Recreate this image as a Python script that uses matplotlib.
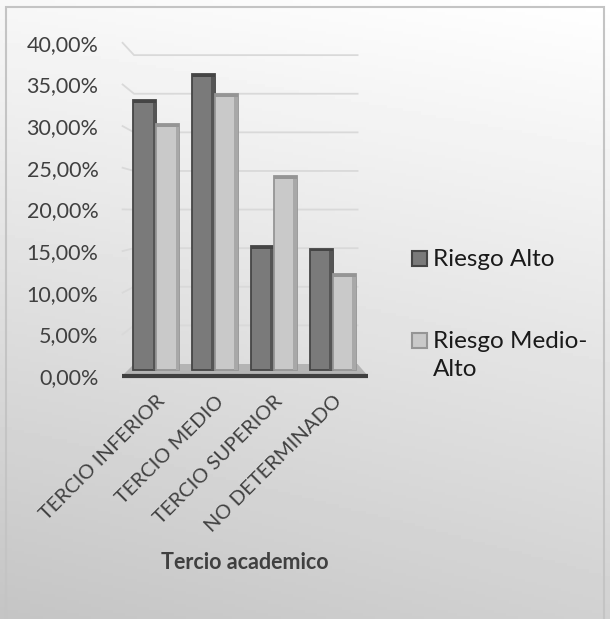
import numpy as np
import matplotlib
matplotlib.use("Agg")
import matplotlib.pyplot as plt
from matplotlib.patches import Rectangle, Polygon

plt.rcParams['font.family'] = ['Lato', 'DejaVu Sans']

# data (percent)
categories = ["TERCIO INFERIOR", "TERCIO MEDIO", "TERCIO SUPERIOR", "NO DETERMINADO"]
riesgo_alto = [33.1, 36.3, 15.6, 15.3]
riesgo_medio_alto = [30.2, 33.8, 24.0, 12.2]
y_ticks = [0, 5, 10, 15, 20, 25, 30, 35, 40]
series_names = ["Riesgo Alto", "Riesgo Medio-\nAlto"]

W, H = 610, 619
fig = plt.figure(figsize=(W / 100, H / 100), dpi=100)

# gray gradient background + thin border
bg = fig.add_axes([0, 0, 1, 1], zorder=-10)
yy, xx = np.mgrid[0:1:200j, 0:1:200j]
shade = 0.97 - 0.18 * yy + 0.03 * xx - 0.02 * yy * (1 - xx)
bg.imshow(shade, cmap="gray", vmin=0, vmax=1, extent=[0, 1, 0, 1],
          aspect="auto", origin="upper")
bg.add_patch(Rectangle((6 / W, -0.01), 598 / W, 1.01 - 7 / H, fill=False,
                       edgecolor="#c4c4c4", lw=1.5))
bg.set_xlim(0, 1)
bg.set_ylim(0, 1)
bg.axis("off")

ax = fig.add_axes([122 / W, 1 - 376 / H, 246 / W, (376 - 42.8) / H])
ax.patch.set_visible(False)
for s in ax.spines.values():
    s.set_visible(False)

x = np.arange(len(categories))
w = 0.39
x_left, x_right = -0.578, 3.595
back_l, back_r = -0.374, 3.418
ax.set_xlim(x_left, x_right)
ax.set_ylim(0, 40)

# back-wall gridlines (pseudo 3D)
for v in y_ticks[1:]:
    vb = 1.44 + 0.927 * v
    ax.plot([x_left + 0.01, back_l, back_r], [v, vb, vb], color="#d9d9d9",
            lw=1.3, zorder=1, clip_on=False)

# floor
ax.add_patch(Polygon([[x_left, 0], [x_right, 0], [back_r, 1.44], [back_l, 1.44]],
                     closed=True, facecolor="#b4b4b4", edgecolor="none", zorder=2))

base = 0.7
styles = [("#7a7a7a", "#454545", "#555555"), ("#c9c9c9", "#959595", "#a8a8a8")]
for k, vals in enumerate([riesgo_alto, riesgo_medio_alto]):
    face, edge, side = styles[k]
    xs = x - w + k * w
    ax.bar(xs, np.array(vals) - base, width=w, bottom=base, align="edge",
           color=face, edgecolor=edge, linewidth=1.3, zorder=3 + k)
    # darker right side to mimic the 3D look
    ax.bar(xs + w - 0.06, np.array(vals) - base, width=0.06, bottom=base,
           align="edge", color=side, edgecolor="none", zorder=3 + k)
    ax.bar(xs, 0.35, width=w, bottom=np.array(vals) - 0.35, align="edge",
           color=edge, edgecolor="none", zorder=3 + k)

# front axis line
ax.plot([x_left, x_right], [0, 0], color="#3f3f3f", lw=3, zorder=6,
        clip_on=False, solid_capstyle="butt")

ax.set_yticks(y_ticks)
ax.set_yticklabels([f"{v:.2f}%".replace(".", ",") for v in y_ticks],
                   fontsize=15.5, color="#404040")
ax.tick_params(axis="y", length=0, pad=17)
ax.set_xticks(x)
ax.set_xticklabels(categories, rotation=45, ha="right", rotation_mode="anchor",
                   fontsize=14.5, color="#404040")
ax.tick_params(axis="x", length=0, pad=12)
ax.set_xlabel("Tercio academico", fontsize=15.5, fontweight="bold",
              color="#404040", labelpad=12)

# legend, laid out by hand (marker aligned with the first text line)
legend_rows = [(258, styles[0]), (340, styles[1])]
for name, (yc, (face, edge, _)) in zip(series_names, legend_rows):
    fig.patches.append(Rectangle((412 / W, 1 - (yc + 7.5) / H), 15 / W, 15 / H,
                                 facecolor=face, edgecolor=edge, lw=1.5,
                                 transform=fig.transFigure, figure=fig))
    fig.text(433 / W, 1 - (yc - 9) / H, name, fontsize=17.5, color="#1a1a1a",
             ha="left", va="top", linespacing=1.4)

fig.savefig("out.png", dpi=100)
